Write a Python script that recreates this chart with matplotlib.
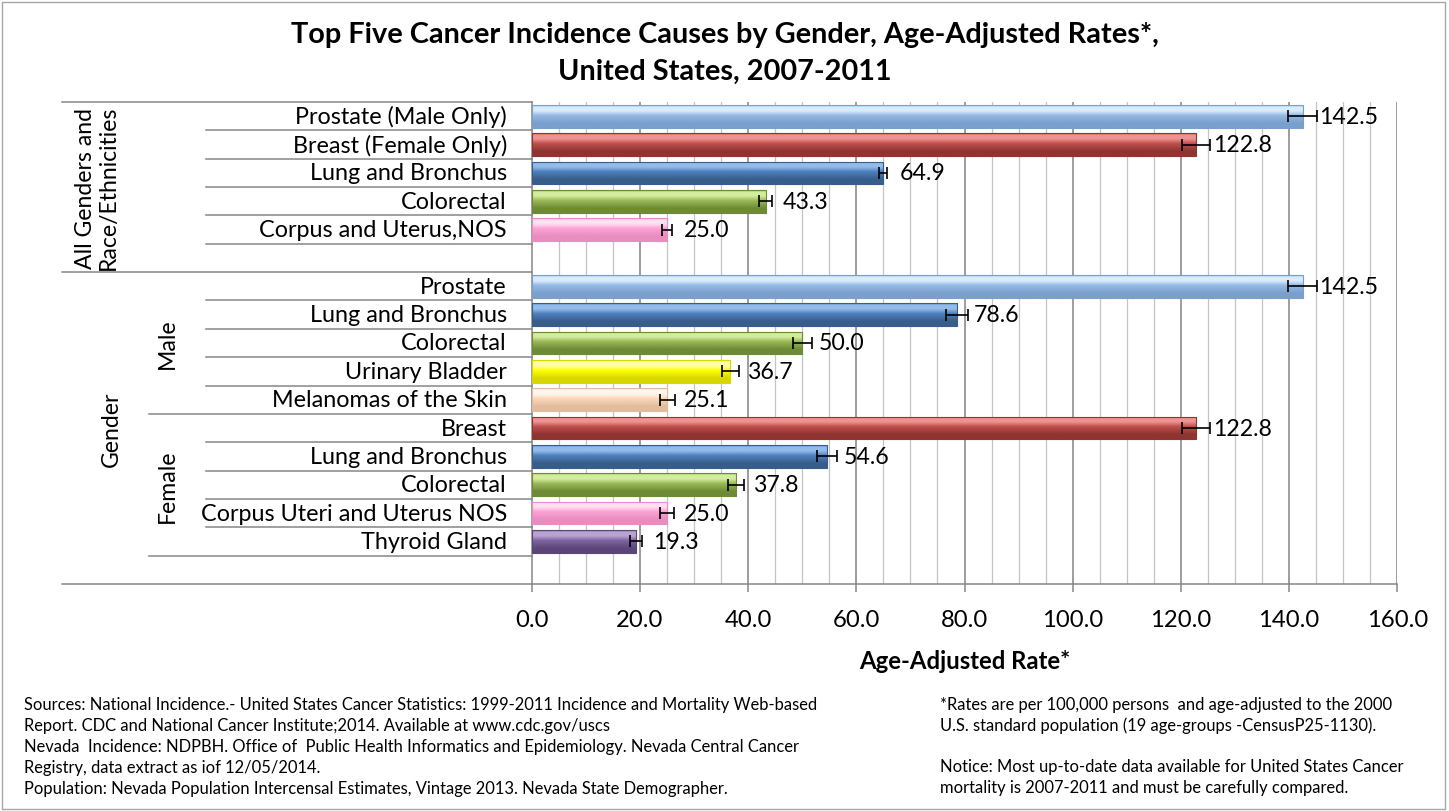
import numpy as np
import matplotlib
matplotlib.use("Agg")
import matplotlib.pyplot as plt
from matplotlib.transforms import blended_transform_factory
from matplotlib.colors import to_rgb
from matplotlib.patches import Rectangle

plt.rcParams['font.family'] = ['Lato', 'DejaVu Sans']

# ---------------- data ----------------
row_labels = ["Prostate (Male Only)", "Breast (Female Only)", "Lung and Bronchus",
              "Colorectal", "Corpus and Uterus,NOS", "",
              "Prostate", "Lung and Bronchus", "Colorectal", "Urinary Bladder",
              "Melanomas of the Skin",
              "Breast", "Lung and Bronchus", "Colorectal",
              "Corpus Uteri and Uterus NOS", "Thyroid Gland", ""]
rates = [142.5, 122.8, 64.9, 43.3, 25.0, np.nan,
         142.5, 78.6, 50.0, 36.7, 25.1,
         122.8, 54.6, 37.8, 25.0, 19.3, np.nan]
rate_err = [2.7, 2.6, 0.7, 1.2, 0.9, np.nan,
            2.7, 2.1, 1.75, 1.6, 1.3,
            2.6, 1.85, 1.5, 1.3, 1.1, np.nan]
bar_kind = ["prostate", "breast", "lung", "colorectal", "corpus", None,
            "prostate", "lung", "colorectal", "bladder", "melanoma",
            "breast", "lung", "colorectal", "corpus", "thyroid", None]
# outer group labels (first row, last row)
outer_groups = [("All Genders and\nRace/Ethnicities", 0, 5), ("Gender", 6, 16)]
mid_groups = [("Male", 6, 10), ("Female", 11, 15)]
x_ticks = [0, 20, 40, 60, 80, 100, 120, 140, 160]

title_lines = ["Top Five Cancer Incidence Causes by Gender, Age-Adjusted Rates*,",
               "United States, 2007-2011"]
x_label = "Age-Adjusted Rate*"
notes_left = ["Sources: National Incidence.- United States Cancer Statistics: 1999-2011 Incidence and Mortality Web-based",
              "Report. CDC and National Cancer Institute;2014. Available at www.cdc.gov/uscs",
              "Nevada  Incidence: NDPBH. Office of  Public Health Informatics and Epidemiology. Nevada Central Cancer",
              "Registry, data extract as iof 12/05/2014.",
              "Population: Nevada Population Intercensal Estimates, Vintage 2013. Nevada State Demographer."]
notes_right = ["*Rates are per 100,000 persons  and age-adjusted to the 2000",
               "U.S. standard population (19 age-groups -CensusP25-1130).",
               "",
               "Notice: Most up-to-date data available for United States Cancer",
               "mortality is 2007-2011 and must be carefully compared."]

# colors: (light, base, dark)
palette = {
    "prostate":   ("#D9ECFD", "#95B9E4", "#7A9FCC"),
    "breast":     ("#EE9391", "#C0504D", "#8E3431"),
    "lung":       ("#93BCEB", "#4F81BD", "#375D8B"),
    "colorectal": ("#D3EC9E", "#9BBB59", "#6E8A36"),
    "corpus":     ("#FFE0F2", "#FFA3D6", "#E88DC0"),
    "bladder":    ("#FFFFA8", "#FFFF00", "#D8D800"),
    "melanoma":   ("#FFF6EE", "#FCD9BC", "#E2BC9C"),
    "thyroid":    ("#B8A4D2", "#8064A2", "#5B4677"),
}

W, H = 1449, 812
fig = plt.figure(figsize=(W / 100, H / 100), dpi=100)
x0px, x1px, y0px, y1px = 531.7, 1397.3, 103, 585
ax = fig.add_axes([x0px / W, 1 - y1px / H, (x1px - x0px) / W, (y1px - y0px) / H])

n = len(row_labels)
ypos = np.arange(n)
bar_h = 0.8
vals = np.array(rates, dtype=float)
errs = np.array(rate_err, dtype=float)

# gridlines
for gx in np.arange(5, 161, 5):
    major = (gx % 20 == 0)
    ax.axvline(gx, color="#8C8C8C" if major else "#C4C4C4",
               lw=1.2 if major else 0.9, zorder=0.5)

bars = ax.barh(ypos, np.nan_to_num(vals), height=bar_h, color="none",
               edgecolor="none", zorder=2)

def gradient(light, base, dark, N=64):
    stops = [(0.0, base), (0.08, light), (0.25, light), (0.45, base),
             (0.8, dark), (1.0, dark)]
    t = np.linspace(0, 1, N)
    out = np.zeros((N, 1, 3))
    for c in range(3):
        xs = [s[0] for s in stops]
        ys = [to_rgb(s[1])[c] for s in stops]
        out[:, 0, c] = np.interp(t, xs, ys)
    return out

for i, (b, kind) in enumerate(zip(bars, bar_kind)):
    if kind is None or np.isnan(vals[i]):
        continue
    light, base, dark = palette[kind]
    img = ax.imshow(gradient(light, base, dark),
                    extent=[0, vals[i], i + bar_h / 2, i - bar_h / 2],
                    origin="upper", aspect="auto", interpolation="bilinear",
                    zorder=2)
    img.set_clip_path(b)
    b.set_edgecolor(dark)
    b.set_linewidth(0.8)
    b.set_zorder(3)

ok = ~np.isnan(vals)
ax.errorbar(vals[ok], ypos[ok], xerr=errs[ok], fmt="none", ecolor="black",
            elinewidth=1.2, capsize=4, capthick=1.2, zorder=4)

for i in ypos[ok]:
    ax.annotate(f"{vals[i]:.1f}", xy=(vals[i], i), xytext=(12, 0),
                textcoords="offset points", ha="left", va="center",
                fontsize=16.7, color="black", zorder=5)

ax.set_xlim(0, 160)
ax.set_ylim(n - 0.5, -0.5)
ax.set_xticks(x_ticks)
ax.set_xticklabels([f"{t:.1f}" for t in x_ticks], fontsize=17.2)
ax.set_yticks([])
ax.tick_params(axis="x", length=6, width=1.1, color="#868686", pad=12)
for s in ["top", "right"]:
    ax.spines[s].set_visible(False)
for s in ["left", "bottom"]:
    ax.spines[s].set_color("#868686")
    ax.spines[s].set_linewidth(1.1)
ax.set_xlabel(x_label, fontsize=17.2, fontweight="bold", labelpad=14)

# category axis structure
bt = blended_transform_factory(ax.transAxes, ax.transData)
def ax_frac(px):
    return (px - x0px) / (x1px - x0px)
lc = "#868686"
outer_x, mid_x, inner_x = ax_frac(62), ax_frac(149), ax_frac(206)
for yb in [-0.5, 5.5, 16.5]:
    ax.plot([outer_x, 0], [yb, yb], transform=bt, color=lc, lw=1.1, clip_on=False)
for yb in [10.5, 15.5]:
    ax.plot([mid_x, 0], [yb, yb], transform=bt, color=lc, lw=1.1, clip_on=False)
for yb in [0.5, 1.5, 2.5, 3.5, 4.5, 6.5, 7.5, 8.5, 9.5, 11.5, 12.5, 13.5, 14.5]:
    ax.plot([inner_x, 0], [yb, yb], transform=bt, color=lc, lw=1.1, clip_on=False)

for i, lab in enumerate(row_labels):
    if lab:
        ax.text(ax_frac(507), i, lab, transform=bt, ha="right", va="center",
                fontsize=16.8)

for lab, a, b in outer_groups:
    xc = ax_frac(97) if "\n" in lab else ax_frac(111)
    ax.text(xc, (a + b) / 2, lab, transform=bt, rotation=90, ha="center",
            va="center", fontsize=16.6, linespacing=1.15)
for lab, a, b in mid_groups:
    ax.text(ax_frac(167), (a + b) / 2, lab, transform=bt, rotation=90,
            ha="center", va="center", fontsize=16.6)

# title
fig.text(0.5, 1 - 43 / H, title_lines[0], ha="center", va="baseline",
         fontsize=20.8, fontweight="bold")
fig.text(0.5, 1 - 80 / H, title_lines[1], ha="center", va="baseline",
         fontsize=20.8, fontweight="bold")

# footnotes
ys_left = [705, 726, 747, 768, 789]
ys_right = [705, 726, 747, 767, 788]
for yy, t in zip(ys_left, notes_left):
    fig.text(24 / W, 1 - yy / H, t, ha="left", va="center", fontsize=11.9)
for yy, t in zip(ys_right, notes_right):
    if t:
        fig.text(940 / W, 1 - yy / H, t, ha="left", va="center", fontsize=11.9)

# figure border
fig.patches.append(Rectangle((2 / W, 2 / H), (W - 6) / W, (H - 5) / H,
                             transform=fig.transFigure, fill=False,
                             edgecolor="#A6A6A6", lw=1.0))

fig.savefig("out.png", dpi=100)
